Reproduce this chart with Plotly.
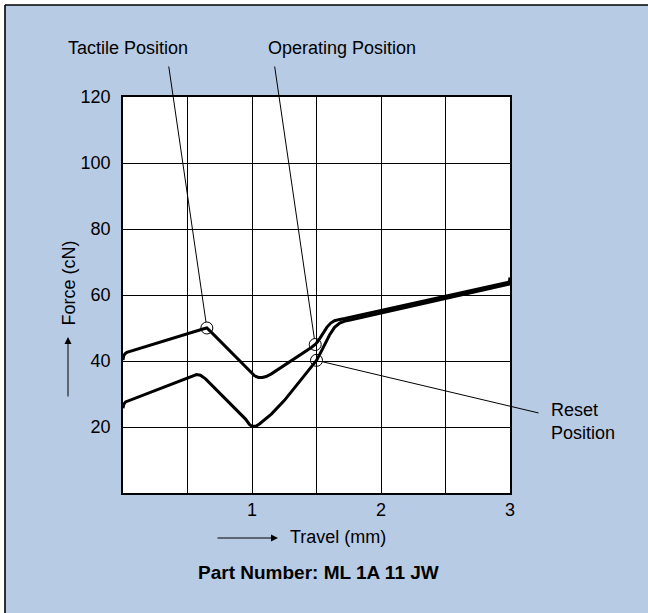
import plotly.graph_objects as go

# ---------------- data ----------------
# Press (actuation) stroke curve
press_x = [0.000, 0.005, 0.015, 0.030, 0.62, 0.65, 0.68, 0.99, 1.02, 1.05, 1.08, 1.11, 1.15,
           1.46, 1.49, 1.51, 1.54, 1.58, 1.61, 1.64, 1.68, 1.72, 2.99, 2.995, 3.0]
press_y = [40.3, 41.5, 42.2, 42.6, 49.7, 50.0, 48.9, 36.6, 35.5, 35.0, 35.0, 35.3, 36.1,
           44.1, 45.0, 45.9, 47.8, 50.2, 51.5, 52.2, 52.6, 52.9, 63.9, 64.2, 65.3]
# Release (return) stroke curve
release_x = [0.000, 0.006, 0.020, 0.50, 0.54, 0.57, 0.60, 0.64, 0.95, 0.98, 1.00, 1.03, 1.06,
             1.15, 1.25, 1.35, 1.45, 1.50, 1.55, 1.60, 1.64, 1.68, 1.72, 1.76, 2.99, 3.0]
release_y = [25.7, 26.9, 27.6, 34.9, 35.6, 35.9, 35.7, 34.6, 22.4, 20.8, 20.2, 20.2, 21.0,
             23.9, 28.0, 32.8, 37.8, 40.2, 43.9, 47.8, 50.2, 51.5, 52.1, 52.4, 63.3, 64.4]

# Marked positions
point_names = ["Tactile Position", "Operating Position", "Reset Position"]
point_x = [0.65, 1.49, 1.50]
point_y = [50.0, 45.0, 40.2]
# leader-line tail ends (data units)
leader_x = [0.353, 1.174, 3.233]
leader_y = [129.7, 129.7, 24.15]

# axis ticks
x_grid = [0.5, 1.0, 1.5, 2.0, 2.5, 3.0]
x_ticktext = ["", "1", "", "2", "", "3"]
y_grid = [0, 20, 40, 60, 80, 100, 120]
y_ticktext = ["", "20", "40", "60", "80", "100", "120"]

x_title = "Travel (mm)"
y_title = "Force (cN)"
caption = "Part Number: ML 1A 11 JW"

# ---------------- layout geometry ----------------
W, H = 648, 613
L, R, T, B = 123, 138, 97, 120
PW, PH = W - L - R, H - T - B
BG = "#B8CBE4"
FONT = "Liberation Sans, Arial, Helvetica, sans-serif"


def px(xp):
    return (xp - L) / PW


def py(yp):
    return (H - B - yp) / PH


fig = go.Figure()

for xs, ys in ((press_x, press_y), (release_x, release_y)):
    fig.add_trace(go.Scatter(x=xs, y=ys, mode="lines",
                             line=dict(color="black", width=3, shape="linear"),
                             hoverinfo="skip", showlegend=False))
fig.add_trace(go.Scatter(x=point_x, y=point_y, mode="markers",
                         marker=dict(symbol="circle-open", size=12, color="black",
                                     line=dict(width=1, color="black")),
                         hoverinfo="skip", showlegend=False, cliponaxis=False))

annotations = []
# leader lines
for xx, yy, lx, ly in zip(point_x, point_y, leader_x, leader_y):
    annotations.append(dict(x=xx, y=yy, xref="x", yref="y", ax=lx, ay=ly,
                            axref="x", ayref="y", text="", showarrow=True,
                            arrowhead=0, arrowwidth=1, arrowcolor="black",
                            standoff=6, startstandoff=0))
# labels
font = dict(family=FONT, size=18, color="black")
annotations.append(dict(x=px(128), y=py(48), xref="paper", yref="paper",
                        text=point_names[0], showarrow=False, font=font,
                        xanchor="center", yanchor="middle"))
annotations.append(dict(x=px(342), y=py(48), xref="paper", yref="paper",
                        text=point_names[1], showarrow=False, font=font,
                        xanchor="center", yanchor="middle"))
annotations.append(dict(x=px(549), y=py(421.5), xref="paper", yref="paper",
                        text="Reset<br>Position", showarrow=False, font=font,
                        xanchor="left", yanchor="middle", align="left"))
# axis titles with arrows
annotations.append(dict(x=px(68), y=py(283.5), xref="paper", yref="paper",
                        text=y_title, textangle=-90, showarrow=False, font=font,
                        xanchor="center", yanchor="middle"))
annotations.append(dict(x=px(68), y=py(337), xref="paper", yref="paper",
                        ax=0, ay=61, text="", showarrow=True, arrowhead=2,
                        arrowsize=1.4, arrowwidth=1, arrowcolor="black"))
annotations.append(dict(x=px(337.5), y=py(537), xref="paper", yref="paper",
                        text=x_title, showarrow=False, font=font,
                        xanchor="center", yanchor="middle"))
annotations.append(dict(x=px(278), y=py(538), xref="paper", yref="paper",
                        ax=-62, ay=0, text="", showarrow=True, arrowhead=2,
                        arrowsize=1.4, arrowwidth=1, arrowcolor="black"))
annotations.append(dict(x=px(318), y=py(572), xref="paper", yref="paper",
                        text="<b>" + caption + "</b>", showarrow=False,
                        font=dict(family=FONT, size=19, color="black"),
                        xanchor="center", yanchor="middle"))

shapes = [
    # white strips outside the framed panel
    dict(type="rect", xref="paper", yref="paper", x0=px(-5), x1=px(W + 5),
         y0=py(5), y1=py(-5), fillcolor="white", line=dict(width=0), layer="above"),
    dict(type="rect", xref="paper", yref="paper", x0=px(-5), x1=px(5),
         y0=py(H + 5), y1=py(-5), fillcolor="white", line=dict(width=0), layer="above"),
    # frame lines (top and left)
    dict(type="line", xref="paper", yref="paper", x0=px(5), x1=px(W + 5),
         y0=py(5), y1=py(5), line=dict(color="black", width=1.6), layer="above"),
    dict(type="line", xref="paper", yref="paper", x0=px(5), x1=px(5),
         y0=py(5), y1=py(H + 5), line=dict(color="black", width=1.6), layer="above"),
]

axis_common = dict(showgrid=True, gridcolor="black", gridwidth=1.3,
                   showline=True, mirror=True, linecolor="black", linewidth=1.5,
                   zeroline=False, ticks="", fixedrange=True,
                   tickfont=dict(family=FONT, size=18, color="black"))

fig.update_layout(
    width=W, height=H,
    margin=dict(l=L, r=R, t=T, b=B, pad=0),
    paper_bgcolor=BG, plot_bgcolor="white",
    xaxis=dict(range=[0, 3], tickmode="array", tickvals=x_grid, ticktext=x_ticktext,
               ticklabelstandoff=0, **axis_common),
    yaxis=dict(range=[0, 120], tickmode="array", tickvals=y_grid, ticktext=y_ticktext,
               ticklabelstandoff=7, **axis_common),
    annotations=annotations,
    shapes=shapes,
    showlegend=False,
)

fig.write_html(
    "out.html",
    config={"displayModeBar": False},
    post_script=(
        "document.documentElement.style.overflow='hidden';"
        "document.documentElement.style.margin='0px';"
        "document.body.style.overflow='hidden';"
        "document.body.style.margin='0px';"
    ),
)
